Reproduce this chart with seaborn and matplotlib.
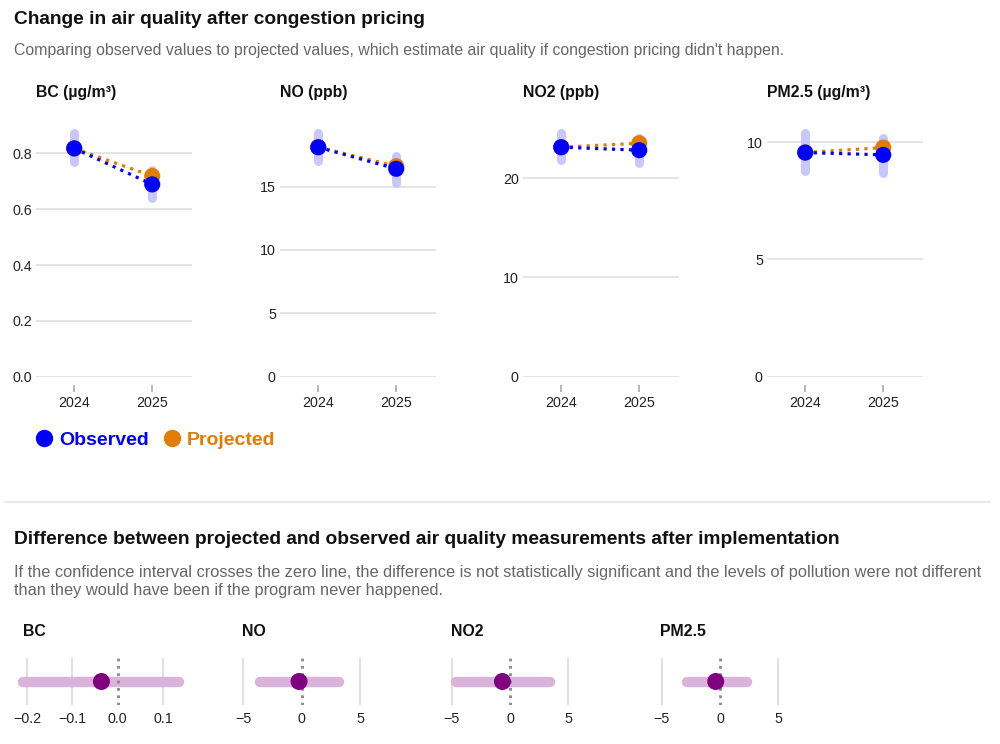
import matplotlib
matplotlib.use('Agg')
import matplotlib.pyplot as plt
from matplotlib.lines import Line2D
from matplotlib.ticker import FuncFormatter
import seaborn as sns

# top row: observed vs projected, per pollutant
pollutants = ['BC', 'NO', 'NO2', 'PM2.5']
panel_titles = ['BC (µg/m³)', 'NO (ppb)', 'NO2 (ppb)', 'PM2.5 (µg/m³)']
years = ['2024', '2025']
observed = [[0.818, 0.689], [18.1, 16.4], [23.1, 22.8], [9.56, 9.46]]
observed_lo = [[0.770, 0.640], [17.05, 15.3], [21.8, 21.5], [8.78, 8.70]]
observed_hi = [[0.872, 0.740], [19.2, 17.4], [24.5, 24.0], [10.38, 10.17]]
projected = [[0.818, 0.719], [18.1, 16.6], [23.1, 23.5], [9.56, 9.77]]
yticks_top = [[0, 0.2, 0.4, 0.6, 0.8], [0, 5, 10, 15], [0, 10, 20], [0, 5, 10]]

# bottom row: difference with confidence interval
diff = [-0.036, -0.23, -0.65, -0.37]
diff_lo = [-0.21, -3.6, -4.65, -2.85]
diff_hi = [0.135, 3.15, 3.45, 2.3]
xticks_bottom = [[-0.2, -0.1, 0.0, 0.1], [-5, 0, 5], [-5, 0, 5], [-5, 0, 5]]

BLUE = '#0000ff'
ORANGE = '#e17c05'
PURPLE = '#800080'

sns.set_theme(style='white')
plt.rcParams['font.family'] = ['Liberation Sans', 'DejaVu Sans']

W, H = 1000, 744
fig = plt.figure(figsize=(W / 100, H / 100), dpi=100)


def fx(px):
    return px / W


def fy(py):
    return 1 - py / H


def fmt(decimals):
    def f(v, pos):
        s = f'{v:.{decimals}f}'
        if s.startswith('-') and float(s) != 0:
            s = '\u2212' + s[1:]
        elif s.startswith('-'):
            s = s[1:]
        return s
    return FuncFormatter(f)


TITLE_SIZE = 13.8
PANEL_SIZE = 11.4
TICK_SIZE = 10.3

fig.text(fx(14), fy(19), 'Change in air quality after congestion pricing',
         fontsize=TITLE_SIZE, fontweight='bold', va='center', ha='left', color='#111111')
fig.text(fx(14), fy(50), "Comparing observed values to projected values, which estimate air quality if congestion pricing didn't happen.",
         fontsize=11.4, va='center', ha='left', color='#666666')

top_lefts = [36, 280, 523, 767]
for i, name in enumerate(pollutants):
    ax = fig.add_axes([fx(top_lefts[i]), fy(376.7), fx(156), (376.7 - 133.3) / H])
    xs = [0, 1]
    ax.vlines(xs, observed_lo[i], observed_hi[i], color='#c8c8ff', lw=6.5,
              capstyle='round', zorder=2, clip_on=False)
    sns.lineplot(x=xs, y=projected[i], ax=ax, color=ORANGE, lw=2.3,
                 linestyle=':', zorder=3)
    sns.lineplot(x=xs, y=observed[i], ax=ax, color=BLUE, lw=2.3,
                 linestyle=':', zorder=4)
    sns.scatterplot(x=xs, y=projected[i], ax=ax, color=ORANGE, s=135,
                    edgecolor='none', zorder=5, clip_on=False)
    sns.scatterplot(x=xs, y=observed[i], ax=ax, color=BLUE, s=135,
                    edgecolor='none', zorder=6, clip_on=False)
    ax.set_xlim(-0.49, 1.51)
    ax.set_ylim(0, max(observed_hi[i]))
    ax.set_xticks(xs)
    ax.set_xticklabels(years)
    ax.set_yticks(yticks_top[i])
    ax.yaxis.set_major_formatter(fmt(1 if name == 'BC' else 0))
    ax.grid(axis='y', color='#e2e2e2', lw=1.3)
    ax.set_axisbelow(True)
    for s in ax.spines.values():
        s.set_visible(False)
    ax.spines['bottom'].set_position(('outward', 6))
    ax.tick_params(axis='y', length=0, pad=3, labelsize=TICK_SIZE, labelcolor='#222222')
    ax.tick_params(axis='x', length=5, width=1.2, color='#aaaaaa', pad=3,
                   labelsize=TICK_SIZE, labelcolor='#222222', bottom=True)
    ax.set_xlabel('')
    ax.set_ylabel('')
    fig.text(fx(top_lefts[i]), fy(92), panel_titles[i], fontsize=PANEL_SIZE,
             fontweight='bold', va='center', ha='left', color='#111111')

handles = [Line2D([], [], ls='none', marker='o', ms=11.5, color=BLUE),
           Line2D([], [], ls='none', marker='o', ms=11.5, color=ORANGE)]
leg = fig.legend(handles, ['Observed', 'Projected'], loc='center left',
                 bbox_to_anchor=(fx(23), fy(440)), frameon=False, ncol=2,
                 handletextpad=0.05, columnspacing=0.5, handlelength=1.4,
                 borderaxespad=0, prop={'weight': 'bold', 'size': 14})
for t, c in zip(leg.get_texts(), [BLUE, ORANGE]):
    t.set_color(c)

fig.add_artist(Line2D([fx(5), fx(990)], [fy(502), fy(502)], color='#e4e4e4', lw=1.2))

fig.text(fx(14), fy(540), 'Difference between projected and observed air quality measurements after implementation',
         fontsize=TITLE_SIZE, fontweight='bold', va='center', ha='left', color='#111111')
fig.text(fx(14), fy(572), 'If the confidence interval crosses the zero line, the difference is not statistically significant and the levels of pollution were not different',
         fontsize=11.8, va='center', ha='left', color='#666666')
fig.text(fx(14), fy(591), 'than they would have been if the program never happened.',
         fontsize=11.8, va='center', ha='left', color='#666666')

bottom_pos = [(19, 163, (-0.218, 0.142)),
              (242.2, 124.9, (-5.1, 5.6)),
              (450.5, 124.9, (-5.1, 5.6)),
              (660.5, 124.9, (-5.1, 5.6))]
title_x = [23, 242, 451, 660]
for i, name in enumerate(pollutants):
    left, width, xlim = bottom_pos[i]
    ax = fig.add_axes([fx(left), fy(705), fx(width), 47 / H])
    ax.hlines([0], [diff_lo[i]], [diff_hi[i]], color='#d9b3d9', lw=7.5,
              capstyle='round', zorder=2, clip_on=False)
    sns.scatterplot(x=[diff[i]], y=[0], ax=ax, color=PURPLE, s=150,
                    edgecolor='none', zorder=4, clip_on=False)
    ax.axvline(0, color='#888888', lw=2, ls=':', zorder=3)
    ax.set_xlim(*xlim)
    ax.set_ylim(-1, 1)
    ax.set_xticks(xticks_bottom[i])
    ax.xaxis.set_major_formatter(fmt(1 if name == 'BC' else 0))
    ax.set_yticks([])
    ax.grid(axis='x', color='#dddddd', lw=1.3)
    for t, g in zip(xticks_bottom[i], ax.get_xgridlines()):
        if t == 0:
            g.set_visible(False)
    ax.set_axisbelow(True)
    for s in ax.spines.values():
        s.set_visible(False)
    ax.tick_params(axis='x', length=0, pad=5, labelsize=TICK_SIZE, labelcolor='#222222')
    ax.set_xlabel('')
    ax.set_ylabel('')
    fig.text(fx(title_x[i]), fy(632), name, fontsize=PANEL_SIZE, fontweight='bold',
             va='center', ha='left', color='#111111')

fig.savefig('out.png', dpi=100)
